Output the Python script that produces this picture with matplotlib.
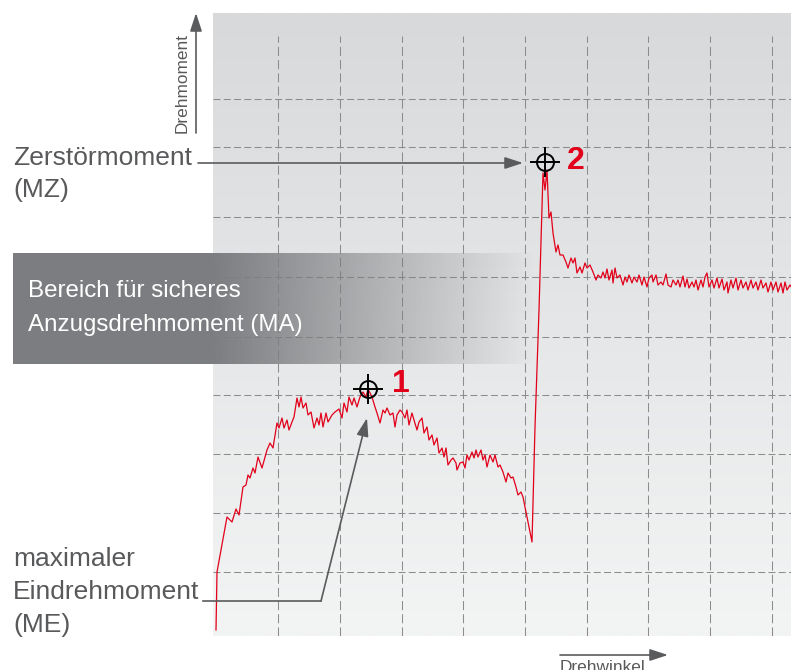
import numpy as np
import matplotlib
matplotlib.use("Agg")
import matplotlib.pyplot as plt

plt.rcParams['font.family'] = ['Liberation Sans', 'DejaVu Sans']
plt.rcParams['lines.scale_dashes'] = False

# Drehwinkel / Drehmoment readings (no scale in the original, arbitrary units)
winkel = [0, 1, 11, 16, 20, 23, 27, 30, 32, 34, 37, 39, 42, 46, 51, 54, 57, 61, 63, 66,
          68, 71, 73, 76, 78, 81, 83, 85, 87, 90, 92, 95, 98, 101, 103, 105, 107, 110, 112, 116,
          119, 123, 126, 128, 131, 133, 136, 138, 141, 144, 147, 150, 152, 156, 159, 161, 164, 167, 169, 171,
          174, 177, 179, 181, 184, 186, 189, 191, 193, 196, 198, 201, 203, 206, 208, 211, 213, 216, 218, 221,
          223, 226, 228, 230, 232, 235, 237, 240, 241, 244, 247, 249, 251, 253, 256, 258, 260, 262, 265, 267,
          269, 271, 274, 277, 279, 282, 284, 287, 290, 292, 295, 297, 300, 302, 305, 307, 309, 316, 319, 323,
          327, 329, 331, 333, 335, 337, 340, 342, 344, 347, 350, 352, 355, 357, 359, 361, 364, 366, 369, 371,
          374, 377, 380, 382, 385, 387, 389, 391, 393, 396, 397, 399, 401, 404, 407, 409, 411, 413, 416, 418,
          421, 423, 426, 428, 431, 433, 436, 437, 440, 442, 445, 447, 450, 452, 455, 457, 460, 462, 464, 467,
          469, 471, 473, 476, 478, 480, 482, 485, 487, 489, 491, 493, 496, 498, 501, 503, 506, 508, 511, 512,
          515, 517, 520, 522, 525, 527, 530, 532, 535, 537, 540, 542, 545, 547, 550, 552, 555, 557, 560, 562,
          565, 567, 569, 571, 574, 576]
moment = [2, 60, 115, 110, 123, 117, 145, 147, 157, 154, 164, 159, 175, 164, 182, 189, 184, 209, 204, 214,
          204, 212, 202, 210, 215, 234, 225, 235, 224, 229, 217, 220, 204, 214, 207, 219, 205, 219, 210, 217,
          220, 223, 214, 229, 220, 235, 227, 234, 225, 235, 240, 235, 243, 235, 225, 219, 209, 222, 219, 224,
          217, 219, 205, 217, 222, 220, 214, 222, 207, 219, 212, 202, 210, 214, 199, 205, 192, 197, 187, 194,
          179, 184, 175, 184, 167, 172, 174, 169, 162, 169, 170, 164, 177, 172, 180, 174, 182, 175, 182, 172,
          177, 165, 177, 170, 177, 165, 167, 160, 150, 159, 154, 155, 145, 137, 140, 135, 125, 90, 205, 322,
          459, 442, 462, 414, 420, 399, 380, 387, 377, 377, 370, 364, 374, 369, 374, 359, 365, 359, 369, 364,
          367, 360, 352, 357, 354, 360, 354, 363, 352, 362, 349, 364, 354, 357, 347, 355, 350, 357, 349, 355,
          350, 357, 347, 355, 345, 354, 357, 350, 357, 347, 350, 347, 358, 347, 345, 352, 347, 352, 345, 356,
          345, 353, 344, 350, 345, 352, 342, 352, 345, 355, 359, 345, 352, 344, 354, 344, 353, 342, 350, 339,
          352, 344, 354, 342, 352, 344, 350, 342, 352, 344, 350, 342, 352, 344, 349, 340, 350, 342, 350, 340,
          349, 339, 350, 342, 347, 344]

grid_winkel = [62, 124, 186, 247, 309, 371, 432, 494, 556]
grid_moment = [60, 119, 178, 237, 295, 355, 415, 485, 533]

punkt_me = (152, 243)   # 1: maximaler Eindrehmoment
punkt_mz = (329, 470)   # 2: Zerstoermoment

ROT = '#e2001a'
TEXT = '#58595b'
LINIE = '#5a5b5d'

fig = plt.figure(figsize=(7.91, 6.70), dpi=100)

# chart panel
ax = fig.add_axes([213 / 791, 34 / 670, 578 / 791, 623 / 670])
ax.set_xlim(-3, 575)
ax.set_ylim(-4, 619)
ax.axis('off')

top = np.array([216, 217, 219]) / 255
bottom = np.array([243, 244, 244]) / 255
t = np.linspace(0, 1, 256).reshape(-1, 1, 1)
bg = top * (1 - t) + bottom * t
ax.imshow(bg, extent=(-3, 575, -4, 619), origin='upper', aspect='auto', zorder=0)

ax.vlines(grid_winkel, -4, 596, colors='#8c8c8c', lw=0.75, linestyles=(0, (6.5, 3)), zorder=1)
ax.hlines(grid_moment, -3, 575, colors='#8c8c8c', lw=0.75, linestyles=(0, (5, 2.4)), zorder=1)

ax.plot(winkel, moment, color=ROT, lw=0.9, zorder=3, clip_on=False)

for p in (punkt_me, punkt_mz):
    ax.plot(*p, marker='o', ms=12.2, mfc='none', mec='black', mew=1.4, zorder=4, clip_on=False)
    ax.plot(*p, marker='+', ms=21.5, mec='black', mew=1.4, zorder=4, clip_on=False)

ax.text(punkt_me[0] + 24, punkt_me[1] - 3, '1', color=ROT, fontsize=23, fontweight='bold',
        ha='left', va='baseline', zorder=5)
ax.text(punkt_mz[0] + 22, punkt_mz[1] - 7, '2', color=ROT, fontsize=23, fontweight='bold',
        ha='left', va='baseline', zorder=5)

# overlay in pixel coordinates for labels and arrows
deco = fig.add_axes([0, 0, 1, 1])
deco.set_xlim(0, 791)
deco.set_ylim(670, 0)
deco.axis('off')

# band "Bereich fuer sicheres Anzugsdrehmoment"
xs = np.linspace(13, 535, 600)
alpha = np.clip(1 - (xs - 213) / (535 - 213), 0, 1)
band = np.zeros((2, len(xs), 4))
band[..., :3] = np.array([124, 125, 128]) / 255
band[..., 3] = alpha
deco.imshow(band, extent=(13, 535, 364, 253), aspect='auto', interpolation='bilinear', zorder=2)
deco.text(28, 297, 'Bereich für sicheres', color='white', fontsize=17.4, va='baseline', zorder=3)
deco.text(28, 331, 'Anzugsdrehmoment (MA)', color='white', fontsize=17.4, va='baseline', zorder=3)

pfeil = dict(arrowstyle='-|>,head_length=1.1,head_width=0.36', color=LINIE, lw=1.2,
             shrinkA=0, shrinkB=0, mutation_scale=10)

# axis arrows
deco.annotate('', xy=(196, 13), xytext=(196, 133), arrowprops=pfeil)
deco.text(187, 83, 'Drehmoment', rotation=90, rotation_mode='anchor', ha='center',
          va='baseline', fontsize=12.4, color=TEXT)
deco.annotate('', xy=(668, 655), xytext=(560, 655), arrowprops=pfeil)
deco.text(560, 672, 'Drehwinkel', ha='left', va='baseline', fontsize=12.4, color=TEXT)

# Zerstoermoment
deco.text(13, 165, 'Zerstörmoment', fontsize=19, color=TEXT, va='baseline')
deco.text(13, 197, '(MZ)', fontsize=19, color=TEXT, va='baseline')
deco.annotate('', xy=(523, 163), xytext=(198, 163), arrowprops=pfeil)

# maximaler Eindrehmoment
deco.text(13, 566, 'maximaler', fontsize=19, color=TEXT, va='baseline')
deco.text(13, 599, 'Eindrehmoment', fontsize=19, color=TEXT, va='baseline')
deco.text(13, 632, '(ME)', fontsize=19, color=TEXT, va='baseline')
deco.plot([203, 321], [601, 601], color=LINIE, lw=1.2)
deco.annotate('', xy=(367, 418), xytext=(321, 601), arrowprops=pfeil)

fig.savefig('out.png', dpi=100)
